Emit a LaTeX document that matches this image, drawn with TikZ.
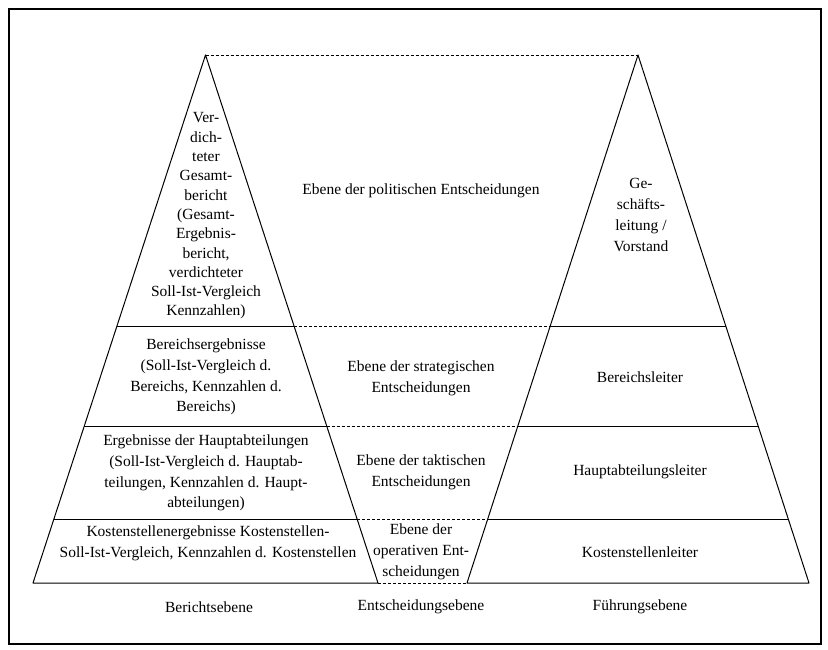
\documentclass[tikz,border=0pt]{standalone}
\usepackage{fontspec}
\setmainfont{Liberation Serif}
\usetikzlibrary{calc}
\begin{document}
\begin{tikzpicture}[x=1pt,y=-1pt,
  lbl/.style={align=center,inner sep=0pt,font=\fontsize{15.5}{20.8}\selectfont},
  tight/.style={font=\fontsize{15.5}{19.3}\selectfont},
  tri/.style={line width=1pt,line join=round},
  lvl/.style={line width=1pt},
  dsh/.style={line width=0.9pt,dash pattern=on 3pt off 2pt}]
\useasboundingbox (0,0) rectangle (828,650);
\draw[line width=2.4pt] (9,9) rectangle (821,644);
% triangle vertices
\coordinate (LA) at (205.5,55);
\coordinate (LL) at (33,583);
\coordinate (LR) at (378,583);
\coordinate (RA) at (638,55);
\coordinate (RL) at (467,583);
\coordinate (RR) at (809,583);
\draw[tri] (LA) -- (LL) -- (LR) -- cycle;
\draw[tri] (RA) -- (RL) -- (RR) -- cycle;
% level points
\foreach \n/\t in {1/0.5133,2/0.7027,3/0.8788}{
  \coordinate (LL\n) at ($(LA)!\t!(LL)$);
  \coordinate (LR\n) at ($(LA)!\t!(LR)$);
  \coordinate (RL\n) at ($(RA)!\t!(RL)$);
  \coordinate (RR\n) at ($(RA)!\t!(RR)$);
  \draw[lvl] (LL\n) -- (LR\n);
  \draw[lvl] (RL\n) -- (RR\n);
  \draw[dsh] (LR\n) -- (RL\n);
}
\draw[dsh] (LA) -- (RA);
\draw[dsh] (LR) -- (RL);
% texts
\node[lbl,tight] (t1) at (206,216) {Ver-\\dich-\\teter\\Gesamt-\\bericht\\(Gesamt-\\Ergebnis-\\bericht,\\verdichteter\\Soll-Ist-Vergleich\\Kennzahlen)};
\node[lbl] (e1) at (421,191) {Ebene der politischen Entscheidungen};
\node[lbl] (f1) at (641,215) {Ge-\\schäfts-\\leitung /\\Vorstand};
\node[lbl] (t2) at (206,377) {Bereichsergebnisse\\(Soll-Ist-Vergleich d.\\Bereichs, Kennzahlen d.\\Bereichs)};
\node[lbl] (e2) at (421,378) {Ebene der strategischen\\Entscheidungen};
\node[lbl] (f2) at (640,377) {Bereichsleiter};
\node[lbl] (t3) at (206,473) {Ergebnisse der Hauptabteilungen\\(Soll-Ist-Vergleich d. Hauptab-\\teilungen, Kennzahlen d. Haupt-\\abteilungen)};
\node[lbl] (e3) at (421,472) {Ebene der taktischen\\Entscheidungen};
\node[lbl] (f3) at (640,472) {Hauptabteilungsleiter};
\node[lbl] (t4) at (208,543) {Kostenstellenergebnisse Kostenstellen-\\Soll-Ist-Vergleich, Kennzahlen d. Kostenstellen};
\node[lbl] (e4) at (421,552) {Ebene der\\operativen Ent-\\scheidungen};
\node[lbl] (f4) at (640,552) {Kostenstellenleiter};
\node[lbl] (b1) at (209,607) {Berichtsebene};
\node[lbl] (b2) at (421,607) {Entscheidungsebene};
\node[lbl] (b3) at (640,607) {Führungsebene};
\end{tikzpicture}
\end{document}
